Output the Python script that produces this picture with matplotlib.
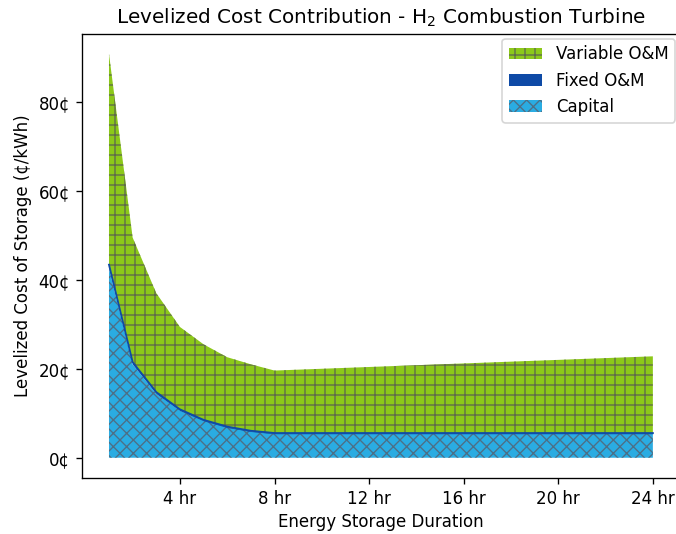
import matplotlib
matplotlib.use("Agg")
import matplotlib.pyplot as plt
from matplotlib.ticker import FuncFormatter
import numpy as np

# storage duration (hr) and cost pieces (cents/kWh)
duration = [1, 2, 3, 4, 5, 6, 7, 8, 24]
capital = [42.5, 21.0, 14.4, 10.6, 8.3, 6.8, 5.9, 5.4, 5.4]
fixed_om = [0.9, 0.5, 0.35, 0.28, 0.22, 0.19, 0.16, 0.15, 0.15]
total = [90.8, 49.5, 37.0, 29.4, 25.5, 22.6, 21.0, 19.6, 22.8]
variable_om = [t - c - f for t, c, f in zip(total, capital, fixed_om)]

xticks = [4, 8, 12, 16, 20, 24]

DPI = 120
plt.rcParams['hatch.linewidth'] = 0.8

fig = plt.figure(figsize=(676/DPI, 534/DPI), dpi=DPI)
ax = fig.add_axes([0.121, 0.105, 0.885, 0.832])

c = np.array(capital)
f = np.array(fixed_om)
v = np.array(variable_om)

h1 = ax.fill_between(duration, 0, c, facecolor='#2aace2', edgecolor='#4d6f86',
                     hatch='xxx', lw=0, label='Capital')
h2 = ax.fill_between(duration, c, c + f, facecolor='#0e4aa6', edgecolor='#0e4aa6',
                     lw=0, label='Fixed O&M')
h3 = ax.fill_between(duration, c + f, c + f + v, facecolor='#8cc81a', edgecolor='#5f6a4a',
                     hatch='++', lw=0, label='Variable O&M')
ax.plot(duration, c + f, color='#0e4aa6', lw=1.1)

ax.set_xticks(xticks)
ax.xaxis.set_major_formatter(FuncFormatter(lambda x, p: f"{x:.0f} hr"))
ax.yaxis.set_major_formatter(FuncFormatter(lambda y, p: f"{y:.0f}¢"))
ax.set_yticks([0, 20, 40, 60, 80])

ax.set_xlabel("Energy Storage Duration", labelpad=3)
ax.set_ylabel("Levelized Cost of Storage (¢/kWh)")
ax.set_title("Levelized Cost Contribution - H$_2$ Combustion Turbine")

ax.legend(handles=[h3, h2, h1], loc='upper right', borderaxespad=0.3)

fig.savefig("out.png", dpi=DPI)
